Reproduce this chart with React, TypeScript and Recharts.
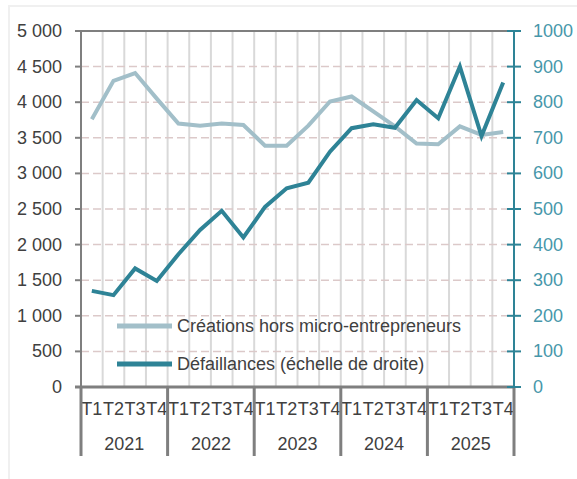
import React from 'react';
import { ComposedChart, Line, XAxis, YAxis, CartesianGrid, Legend, ReferenceLine } from 'recharts';

const years = ['2021', '2022', '2023', '2024', '2025'];
const quarterNames = ['T1', 'T2', 'T3', 'T4'];
const creations = [3760, 4300, 4410, 4050, 3700, 3670, 3700, 3680, 3390, 3390, 3670, 4010, 4080, 3870, 3660, 3420, 3410, 3660, 3540, 3580];
const defaillances = [270, 258, 333, 298, 373, 441, 495, 420, 506, 558, 574, 661, 727, 738, 728, 806, 755, 900, 705, 855];
const leftTicks = [0, 500, 1000, 1500, 2000, 2500, 3000, 3500, 4000, 4500, 5000];
const rightTicks = [0, 100, 200, 300, 400, 500, 600, 700, 800, 900, 1000];
const seriesNames = ['Créations hors micro-entrepreneurs', 'Défaillances (échelle de droite)'];

const data = creations.map((c, i) => ({
  id: `${years[Math.floor(i / 4)]}-${quarterNames[i % 4]}`,
  q: quarterNames[i % 4],
  year: years[Math.floor(i / 4)],
  creations: c,
  defaillances: defaillances[i],
}));

const W = 577;
const H = 479;
const LEFT_W = 81;
const RIGHT_W = 63;
const TOP = 31;
const XAXIS_H = 92;
const BAND = (W - LEFT_W - RIGHT_W) / data.length;

const FONT = '"Liberation Sans", Arial, sans-serif';
const TEXT = '#404040';
const GREY_AXIS = '#7f7f7f';
const TEAL = '#2e8396';
const TEAL_LABEL = '#4797aa';
const LIGHT = '#a2bfc9';

const fmt = (v: number) =>
  v >= 1000 ? `${Math.floor(v / 1000)} ${String(v % 1000).padStart(3, '0')}` : String(v);

const LeftTick = (props: any) => {
  const { x, y, payload } = props;
  return (
    <g>
      <line x1={x - 6} x2={x} y1={y} y2={y} stroke={GREY_AXIS} strokeWidth={2} />
      <text x={x - 19} y={y} dy={6} textAnchor="end" fontFamily={FONT} fontSize={18} fill={TEXT}>
        {fmt(payload.value)}
      </text>
    </g>
  );
};

const RightTick = (props: any) => {
  const { x, y, payload } = props;
  return (
    <g>
      <line x1={x - 7} x2={x + 7} y1={y} y2={y} stroke={TEAL} strokeWidth={2} />
      <text x={x + 19} y={y} dy={6} textAnchor="start" fontFamily={FONT} fontSize={18} fill={TEAL_LABEL}>
        {payload.value}
      </text>
    </g>
  );
};

const XTick = (props: any) => {
  const { x, y, payload } = props;
  const idx: number = payload.index ?? props.index ?? 0;
  const row = data[idx];
  return (
    <g>
      <text x={x} y={y + 28} textAnchor="middle" fontFamily={FONT} fontSize={18} fill={TEXT}>
        {row ? row.q : ''}
      </text>
      {idx === 0 && (
        <line x1={x - BAND / 2 - 6} x2={x - BAND / 2} y1={y} y2={y} stroke={GREY_AXIS} strokeWidth={3} />
      )}
      {idx % 4 === 0 && (
        <line x1={x - BAND / 2} x2={x - BAND / 2} y1={y} y2={y + 69} stroke={GREY_AXIS} strokeWidth={3} />
      )}
      {idx === data.length - 1 && (
        <line x1={x + BAND / 2} x2={x + BAND / 2} y1={y} y2={y + 69} stroke={GREY_AXIS} strokeWidth={3} />
      )}
      {idx % 4 === 1 && (
        <text x={x + BAND / 2} y={y + 63} textAnchor="middle" fontFamily={FONT} fontSize={18} fill={TEXT}>
          {row ? row.year : ''}
        </text>
      )}
    </g>
  );
};

const renderLegend = (props: any) => {
  const payload = (props && props.payload) || [];
  const items = seriesNames.map((name, i) => {
    const p = payload.find((e: any) => e.value === name);
    return { name, color: p ? p.color : i === 0 ? LIGHT : TEAL };
  });
  return (
    <div style={{ fontFamily: FONT, fontSize: 18, color: TEXT }}>
      {items.map((it) => (
        <div key={it.name} style={{ display: 'flex', alignItems: 'center', height: 38, whiteSpace: 'nowrap' }}>
          <svg width={60} height={10} style={{ flex: 'none' }}>
            <line x1={0} x2={55} y1={5} y2={5} stroke={it.color} strokeWidth={5} />
          </svg>
          <span>{it.name}</span>
        </div>
      ))}
    </div>
  );
};

export default function App() {
  return (
    <div style={{ position: 'absolute', left: 0, top: 0, width: W, height: H, background: '#fff' }}>
      <div
        style={{
          position: 'absolute',
          left: 8,
          top: 5,
          width: W - 8,
          height: H - 5,
          borderTop: '2px solid #f0f0f0',
          borderLeft: '2px solid #f0f0f0',
          boxSizing: 'border-box',
        }}
      />
      <div style={{ position: 'absolute', left: 0, top: 0 }}>
        <ComposedChart width={W} height={H} data={data} margin={{ top: TOP, right: 0, bottom: 0, left: 0 }}>
          <CartesianGrid
            horizontal={false}
            stroke="#d9d9d9"
            strokeWidth={2}
            yAxisId="left"
            verticalCoordinatesGenerator={({ offset }: any) =>
              data.map((_, i) => offset.left + (i * offset.width) / data.length)
            }
          />
          <CartesianGrid vertical={false} stroke="#dcc9c9" strokeWidth={1.5} strokeDasharray="8 4" yAxisId="left" />
          <XAxis
            dataKey="id"
            scale="band"
            interval={0}
            height={XAXIS_H}
            tickLine={false}
            tickSize={0}
            tickMargin={0}
            axisLine={{ stroke: GREY_AXIS, strokeWidth: 3 }}
            tick={<XTick />}
          />
          <YAxis
            yAxisId="left"
            domain={[0, 5000]}
            ticks={leftTicks}
            width={LEFT_W}
            tickLine={false}
            tickSize={0}
            tickMargin={0}
            axisLine={{ stroke: GREY_AXIS, strokeWidth: 2 }}
            tick={<LeftTick />}
            interval={0}
          />
          <YAxis
            yAxisId="right"
            orientation="right"
            domain={[0, 1000]}
            ticks={rightTicks}
            width={RIGHT_W}
            tickLine={false}
            tickSize={0}
            tickMargin={0}
            axisLine={{ stroke: TEAL, strokeWidth: 2 }}
            tick={<RightTick />}
            interval={0}
          />
          <ReferenceLine yAxisId="left" y={5000} stroke={GREY_AXIS} strokeWidth={2} />
          <Legend
            layout="vertical"
            align="center"
            verticalAlign="middle"
            content={renderLegend}
            wrapperStyle={{ left: 117, top: 307, width: 400 }}
          />
          <Line
            yAxisId="left"
            dataKey="creations"
            name={seriesNames[0]}
            stroke={LIGHT}
            strokeWidth={4}
            dot={false}
            activeDot={false}
            isAnimationActive={false}
          />
          <Line
            yAxisId="right"
            dataKey="defaillances"
            name={seriesNames[1]}
            stroke={TEAL}
            strokeWidth={4}
            dot={false}
            activeDot={false}
            isAnimationActive={false}
          />
        </ComposedChart>
      </div>
    </div>
  );
}
